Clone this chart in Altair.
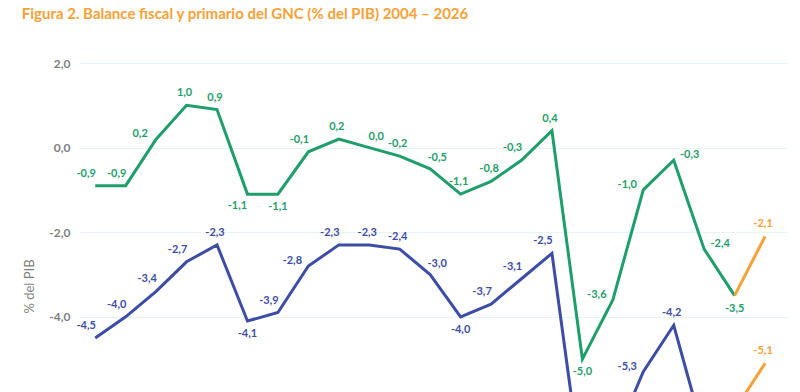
import altair as alt
import pandas as pd

YEARS = list(range(2004, 2027))
PRIMARIO = [-0.9, -0.9, 0.2, 1.0, 0.9, -1.1, -1.1, -0.1, 0.2, 0.0, -0.2, -0.5,
            -1.1, -0.8, -0.3, 0.4, -5.0, -3.6, -1.0, -0.3, -2.4, -3.5, -2.1]
FISCAL = [-4.5, -4.0, -3.4, -2.7, -2.3, -4.1, -3.9, -2.8, -2.3, -2.3, -2.4, -3.0,
          -4.0, -3.7, -3.1, -2.5, -7.8, -7.0, -5.3, -4.2, -6.8, -6.2, -5.1]
PROJ_START = 2025
Y_TICKS = [-8.0, -6.0, -4.0, -2.0, 0.0, 2.0]

# label placement codes (relative to the point)
PRIM_POS = ["al", "al", "l", "a", "a", "bl", "b", "al", "a", "ar", "a", "ar",
            "a", "a", "al", "a", "b", "l", "l", "r", "r", "b", "a"]
FISC_POS = ["al", "al", "al", "al", "a", "b", "al", "l", "al", "a", "a", "ar",
            "b", "al", "al", "al", "l", "r", "l", "a", "r", "r", "a"]
OFFSETS = {"a": (-2, -12), "b": (0, 13), "al": (-9, -12), "ar": (7, -11),
           "l": (-16, -5), "r": (16, -5), "bl": (-10, 12)}

GREEN = "#1E9E6A"
BLUE = "#3D4DA6"
ORANGE = "#F7A136"
GRAY = "#7F7F7F"
FONT = "Lato"


def fmt(v):
    return f"{v:.1f}".replace(".", ",")


line_rows = []
label_rows = []
for name, vals, pos in (("prim", PRIMARIO, PRIM_POS), ("fisc", FISCAL, FISC_POS)):
    for y, v, p in zip(YEARS, vals, pos):
        if y <= PROJ_START:
            line_rows.append({"year": y, "value": v, "seg": name + "_hist"})
        if y >= PROJ_START:
            line_rows.append({"year": y, "value": v, "seg": name + "_proj"})
        label_rows.append({"year": y, "value": v, "txt": fmt(v),
                           "ckey": (name + "_proj") if y > PROJ_START else (name + "_hist"),
                           "pos": p})

lines_df = pd.DataFrame(line_rows)
labels_df = pd.DataFrame(label_rows)

color_scale = alt.Scale(domain=["prim_hist", "fisc_hist", "prim_proj", "fisc_proj"],
                        range=[GREEN, BLUE, ORANGE, ORANGE])

x_enc = alt.X("year:Q", scale=alt.Scale(domain=[2003.5, 2026.72], nice=False, zero=False),
              axis=alt.Axis(values=YEARS, format="d", grid=False, domain=False, ticks=False,
                            labelColor=GRAY, labelFont=FONT, labelFontSize=11, labelFlush=False,
                            labelPadding=14),
              title=None)
y_enc = alt.Y("value:Q", scale=alt.Scale(domain=[-8, 2], nice=False, zero=False),
              axis=alt.Axis(values=Y_TICKS, grid=True, gridColor="#E3F5F4", gridWidth=1,
                            domain=False, ticks=False, labelPadding=10,
                            labelExpr="(datum.value < 0 ? '-' : '') + replace(format(abs(datum.value), '.1f'), '.', ',')",
                            labelColor=GRAY, labelFont=FONT, labelFontSize=12, labelFontWeight="bold",
                            title="% del PIB", titleColor=GRAY, titleFont=FONT, titleFontSize=13,
                            titleFontWeight="normal", titlePadding=12, titleY=223),
              title="% del PIB")

lines = alt.Chart(lines_df).mark_line(strokeWidth=3).encode(
    x=x_enc, y=y_enc,
    color=alt.Color("seg:N", scale=color_scale, legend=None),
    detail="seg:N",
)

layers = [lines]
for code, (dx, dy) in OFFSETS.items():
    layers.append(
        alt.Chart(labels_df).transform_filter(alt.datum.pos == code)
        .mark_text(dx=dx, dy=dy, font=FONT, fontSize=11, fontWeight="bold",
                   align="center", baseline="middle")
        .encode(x="year:Q", y="value:Q", text="txt:N",
                color=alt.Color("ckey:N", scale=color_scale, legend=None))
    )

chart = alt.layer(*layers).properties(
    width=707,
    height=423,
    autosize=alt.AutoSizeParams(type="none"),
    padding={"left": 72, "top": 55, "right": 5, "bottom": 40},
    title=alt.TitleParams("Figura 2. Balance fiscal y primario del GNC (% del PIB) 2004 – 2026",
                          anchor="start", font=FONT, fontSize=15, fontWeight="bold",
                          color=ORANGE, offset=35, dx=-2),
).configure_view(stroke=None)

chart.save("out.html", embed_options={"renderer": "svg", "actions": False})
